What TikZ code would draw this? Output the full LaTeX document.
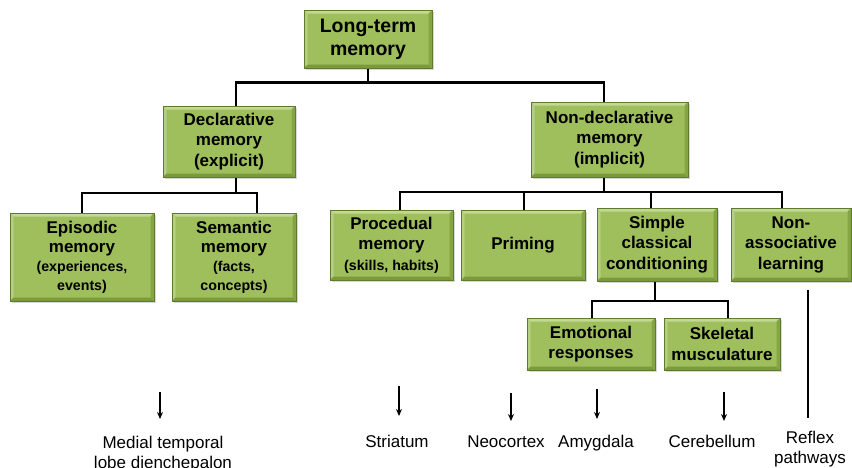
\documentclass[tikz,border=0pt]{standalone}
\usepackage{fontspec}
\setmainfont{Liberation Sans}
\usetikzlibrary{shadows,arrows.meta}
\definecolor{boxgreen}{HTML}{9EBF5B}
\definecolor{boxedge}{HTML}{5E7A2E}
\definecolor{boxlight}{HTML}{C2D994}
\definecolor{boxdark}{HTML}{7A9A3C}
\newcommand\smalltxt{\fontsize{14.2}{18.5}\selectfont}
\tikzset{
  memb/.style={draw=boxedge, line width=1pt, fill=boxgreen, align=center,
    font=\bfseries\fontsize{17}{20.5}\selectfont, inner sep=0pt,
    drop shadow={shadow xshift=2pt, shadow yshift=-2pt, fill=black!30},
    path picture={
      \fill[boxlight] (path picture bounding box.north west) -- (path picture bounding box.north east)
        -- ([xshift=-3.5pt,yshift=-3.5pt]path picture bounding box.north east)
        -- ([xshift=3.5pt,yshift=-3.5pt]path picture bounding box.north west) -- cycle;
      \fill[boxlight!60!boxgreen] (path picture bounding box.north west) -- (path picture bounding box.south west)
        -- ([xshift=3.5pt,yshift=3.5pt]path picture bounding box.south west)
        -- ([xshift=3.5pt,yshift=-3.5pt]path picture bounding box.north west) -- cycle;
      \fill[boxdark] (path picture bounding box.south west) -- (path picture bounding box.south east)
        -- ([xshift=-3.5pt,yshift=3.5pt]path picture bounding box.south east)
        -- ([xshift=3.5pt,yshift=3.5pt]path picture bounding box.south west) -- cycle;
      \fill[boxdark!70!boxgreen] (path picture bounding box.north east) -- (path picture bounding box.south east)
        -- ([xshift=-3.5pt,yshift=3.5pt]path picture bounding box.south east)
        -- ([xshift=-3.5pt,yshift=-3.5pt]path picture bounding box.north east) -- cycle;
    }},
  conn/.style={line width=2.3pt, black},
  arr/.style={line width=1.4pt, -{Stealth[length=7pt,width=6pt]}},
  lab/.style={font=\fontsize{17}{20}\selectfont, align=center, inner sep=0pt, anchor=base}
}
\begin{document}
\begin{tikzpicture}[x=1pt,y=-1pt]
\useasboundingbox (0,0) rectangle (852,467);
% boxes
\node[memb, minimum width=128pt, minimum height=58pt, font=\bfseries\fontsize{19.5}{23}\selectfont] (ltm) at (368,39) {Long-term\\memory};
\node[memb, minimum width=132pt, minimum height=71pt] (decl) at (229,141.5) {Declarative\\memory\\(explicit)};
\node[memb, minimum width=157pt, minimum height=75pt] (ndecl) at (609.5,139.5) {Non-declarative\\memory\\(implicit)};
\node[memb, minimum width=144pt, minimum height=88pt, font=\bfseries\fontsize{17}{19}\selectfont] (epi) at (82,257) {Episodic\\memory\\{\smalltxt (experiences,}\\{\smalltxt events)}};
\node[memb, minimum width=124pt, minimum height=88pt, font=\bfseries\fontsize{17}{19}\selectfont] (sem) at (234,257) {Semantic\\memory\\{\smalltxt (facts,}\\{\smalltxt concepts)}};
\node[memb, minimum width=123pt, minimum height=70pt] (proc) at (391.5,245) {Procedual\\memory\\{\smalltxt (skills, habits)}};
\node[memb, minimum width=124pt, minimum height=70pt] (prim) at (523,245) {Priming};
\node[memb, minimum width=120pt, minimum height=73pt] (scc) at (657,244.5) {Simple\\classical\\conditioning};
\node[memb, minimum width=120pt, minimum height=73pt] (nal) at (791,244.5) {Non-\\associative\\learning};
\node[memb, minimum width=128pt, minimum height=52pt] (emo) at (591,344) {Emotional\\responses};
\node[memb, minimum width=116pt, minimum height=52pt] (ske) at (722,344) {Skeletal\\musculature};
% tree connectors
\draw[conn] (ltm.south) -- ++(0,14) coordinate (j1);
\draw[conn] (decl.north -| 236,0) |- (j1) -| (ndecl.north -| 604,0);
\draw[conn] (decl.south -| 236,0) -- (236,193) coordinate (j2);
\draw[conn] (epi.north) |- (j2) -| (sem.north -| 257,0);
\draw[conn] (ndecl.south -| 604,0) -- (604,192) coordinate (j3);
\draw[conn] (proc.north -| 400,0) |- (j3) -| (nal.north -| 782,0);
\draw[conn] (prim.north -| 524,0) -- (524,192);
\draw[conn] (scc.north -| 651,0) -- (651,192);
\draw[conn] (scc.south -| 655,0) -- (655,301) coordinate (j4);
\draw[conn] (emo.north -| 592,0) |- (j4) -| (ske.north -| 728,0);
% reflex line
\coordinate (rl) at (808,290);
\coordinate (rlend) at (808,418);
\draw[line width=2.3pt] (rl) -- (rlend);
% labels
\node[lab] (mtl) at (163,468) {Medial temporal\\lobe dienchepalon};
\node[lab] (str) at (397,447) {Striatum};
\node[lab] (neo) at (506,447) {Neocortex};
\node[lab] (amy) at (596,447) {Amygdala};
\node[lab] (cer) at (712,447) {Cerebellum};
\node[lab] (ref) at (810,463) {Reflex\\pathways};
% arrows
\draw[arr] (160,392) -- (160,419);
\draw[arr] (399,386) -- (399,416);
\draw[arr] (511,393) -- (511,421);
\draw[arr] (597,389) -- (597,419);
\draw[arr] (724,392) -- (724,421);
\end{tikzpicture}
\end{document}
